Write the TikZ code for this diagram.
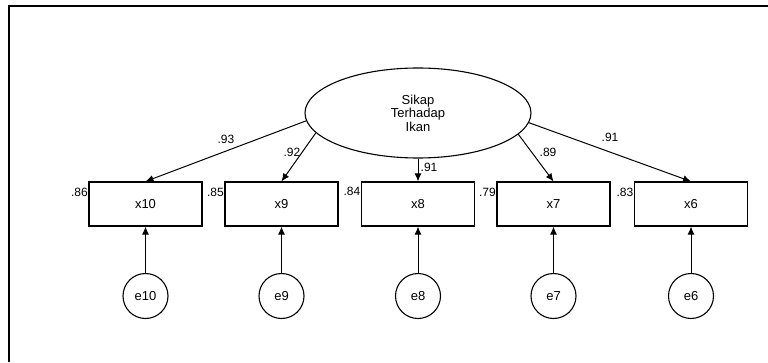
\documentclass[tikz,border=0pt]{standalone}
\usepackage{fontspec}
\setmainfont{Liberation Sans}
\usetikzlibrary{arrows.meta,shapes.geometric}
\begin{document}
\begin{tikzpicture}[x=1pt,y=1pt,
  every node/.style={font=\fontsize{13}{13.5}\selectfont},
  latent/.style={draw,line width=1.1pt,ellipse,minimum width=226pt,minimum height=90pt,inner sep=0pt,align=center},
  obs/.style={draw,line width=1.1pt,rectangle,minimum width=113pt,minimum height=44pt,inner sep=0pt},
  err/.style={draw,line width=1.1pt,circle,minimum size=45pt,inner sep=0pt},
  arr/.style={line width=1pt,-{Latex[length=8pt,width=7pt]}},
  lbl/.style={font=\fontsize{12}{13}\selectfont,inner sep=0.5pt}]
\useasboundingbox (0,0) rectangle (768,362);
\draw[line width=1.8pt] (9,0) -- (9,356) -- (768,356);
\node[latent] (lat) at (418,249) {Sikap\\Terhadap\\Ikan};
\node[obs] (x10) at (145.5,158) {x10};
\node[obs] (x9) at (281.5,158) {x9};
\node[obs] (x8) at (418,158) {x8};
\node[obs] (x7) at (553.5,158) {x7};
\node[obs] (x6) at (691,158) {x6};
\node[err] (e10) at (145.5,66) {e10};
\node[err] (e9) at (281.5,66) {e9};
\node[err] (e8) at (418,66) {e8};
\node[err] (e7) at (553.5,66) {e7};
\node[err] (e6) at (691,66) {e6};
\draw[arr] (lat.184.6) -- (x10.north);
\draw[arr] (lat.191.7) -- (x9.north);
\draw[arr] (lat.south) -- (x8.north);
\draw[arr] (lat.348.3) -- (x7.north);
\draw[arr] (lat.355.4) -- (x6.north);
\foreach \n in {10,9,8,7,6} \draw[arr] (e\n.north) -- (x\n.south);
\node[lbl] (l93) at (226,223) {.93};
\node[lbl] (l92) at (292,210) {.92};
\node[lbl] (l91a) at (429,195) {.91};
\node[lbl] (l89) at (548,210) {.89};
\node[lbl] (l91b) at (610,225) {.91};
\node[lbl,anchor=east] (r10) at ([yshift=-11pt]x10.north west) {.86};
\node[lbl,anchor=east] (r9) at ([yshift=-11pt]x9.north west) {.85};
\node[lbl,anchor=east] (r8) at ([yshift=-10pt]x8.north west) {.84};
\node[lbl,anchor=east] (r7) at ([yshift=-11pt]x7.north west) {.79};
\node[lbl,anchor=east] (r6) at ([yshift=-11pt]x6.north west) {.83};
\end{tikzpicture}
\end{document}
